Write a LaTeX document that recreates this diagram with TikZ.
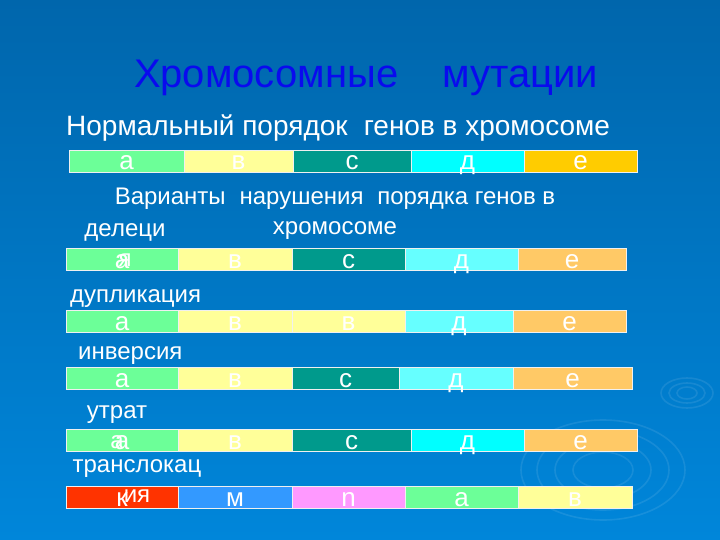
\documentclass[tikz,border=0pt]{standalone}
\usepackage{fontspec}
\setmainfont{Liberation Sans}
\definecolor{bgTop}{HTML}{0066AC}
\definecolor{bgBottom}{HTML}{0086DA}
\definecolor{titleBlue}{HTML}{0A0AEE}
\definecolor{gGreen}{HTML}{6CFF98}
\definecolor{gYellow}{HTML}{FFFF99}
\definecolor{gTeal}{HTML}{009A8C}
\definecolor{gCyan}{HTML}{00FFFF}
\definecolor{gCyanL}{HTML}{66FFFF}
\definecolor{gGold}{HTML}{FFCC00}
\definecolor{gOrange}{HTML}{FFC966}
\definecolor{gRed}{HTML}{FF3300}
\definecolor{gBlue}{HTML}{3399FF}
\definecolor{gPink}{HTML}{FF99FF}
\tikzset{
  gene/.style={draw=white!88!gray,line width=0.9pt,inner sep=0pt,anchor=north west},
  genetext/.style={text=white,font=\fontsize{26}{30}\selectfont,anchor=base,inner sep=0pt},
  rowlabel/.style={text=white,font=\fontsize{24}{30}\selectfont,inner sep=0pt,align=center},
  ripple/.style={white,opacity=0.09,line width=1.6pt}
}
\begin{document}
\begin{tikzpicture}[x=1pt,y=-1pt]
  \useasboundingbox (0,0) rectangle (720,540);
  \shade[top color=bgTop,bottom color=bgBottom] (0,0) rectangle (720,540);
  % ripples on the water
  \foreach \rx/\ry in {82/50,66/40,48/29,30/18}
    \draw[ripple] (603,470) ellipse ({\rx} and {\ry});
  \foreach \rx/\ry in {26/15,18/10,10/6}
    \draw[ripple] (687,393) ellipse ({\rx} and {\ry});
  % headings
  \node[text=titleBlue,font=\fontsize{40}{48}\selectfont,anchor=base,inner sep=0pt] (title) at (366,88) {Хромосомные\hspace{1.1em}мутации};
  \node[text=white,font=\fontsize{28}{32}\selectfont,anchor=base west,inner sep=0pt] (normal) at (66,136) {Нормальный порядок\hspace{0.3em} генов в хромосоме};
  \node[rowlabel,anchor=base] (variants) at (335,235) {Варианты\hspace{0.3em} нарушения\hspace{0.3em} порядка генов в\\хромосоме};
  % normal order
  \foreach \xa/\xb/\col/\gen [count=\i] in {69/184/gGreen/а,184/293/gYellow/в,293/411/gTeal/с,411/524/gCyan/д,524/637/gGold/е}{
    \node[gene,fill=\col,minimum width={(\xb-\xa)*1pt},minimum height=22pt] (nrm\i) at (\xa,150) {};
    \node[genetext] (nrmT\i) at ({(\xa+\xb)/2},170) {\gen};
  }
  % deletion
  \foreach \xa/\xb/\col/\gen [count=\i] in {66/178/gGreen/а,178/292/gYellow/в,292/405/gTeal/с,405/518/gCyanL/д,518/626/gOrange/е}{
    \node[gene,fill=\col,minimum width={(\xb-\xa)*1pt},minimum height=22pt] (del\i) at (\xa,248) {};
    \node[genetext] (delT\i) at ({(\xa+\xb)/2},268) {\gen};
  }
  \node[rowlabel,anchor=base] (delLabel) at (125,266) {делеци\\я};
  % duplication
  \foreach \xa/\xb/\col/\gen [count=\i] in {66/178/gGreen/а,178/292/gYellow/в,292/405/gYellow/в,405/513/gCyanL/д,513/626/gOrange/е}{
    \node[gene,fill=\col,minimum width={(\xb-\xa)*1pt},minimum height=22pt] (dup\i) at (\xa,310) {};
    \node[genetext] (dupT\i) at ({(\xa+\xb)/2},330) {\gen};
  }
  \node[rowlabel,anchor=base west] (dupLabel) at (70,302) {дупликация};
  % inversion
  \foreach \xa/\xb/\col/\gen [count=\i] in {66/178/gGreen/а,178/292/gYellow/в,292/399/gTeal/с,399/513/gCyanL/д,513/632/gOrange/е}{
    \node[gene,fill=\col,minimum width={(\xb-\xa)*1pt},minimum height=22pt] (inv\i) at (\xa,367) {};
    \node[genetext] (invT\i) at ({(\xa+\xb)/2},387) {\gen};
  }
  \node[rowlabel,anchor=base west] (invLabel) at (78,359) {инверсия};
  % loss
  \foreach \xa/\xb/\col/\gen [count=\i] in {66/178/gGreen/а,178/292/gYellow/в,292/411/gTeal/с,411/524/gCyan/д,524/637/gOrange/е}{
    \node[gene,fill=\col,minimum width={(\xb-\xa)*1pt},minimum height=22pt] (los\i) at (\xa,429) {};
    \node[genetext] (losT\i) at ({(\xa+\xb)/2},449) {\gen};
  }
  \node[rowlabel,anchor=base] (losLabel) at (117,448) {утрат\\а};
  % translocation
  \foreach \xa/\xb/\col/\gen [count=\i] in {66/178/gRed/к,178/292/gBlue/м,292/405/gPink/n,405/518/gGreen/а,518/632/gYellow/в}{
    \node[gene,fill=\col,minimum width={(\xb-\xa)*1pt},minimum height=22pt] (trl\i) at (\xa,486) {};
    \node[genetext] (trlT\i) at ({(\xa+\xb)/2},506) {\gen};
  }
  \node[rowlabel,anchor=base] (trlLabel) at (137,502) {транслокац\\ия};
\end{tikzpicture}
\end{document}
